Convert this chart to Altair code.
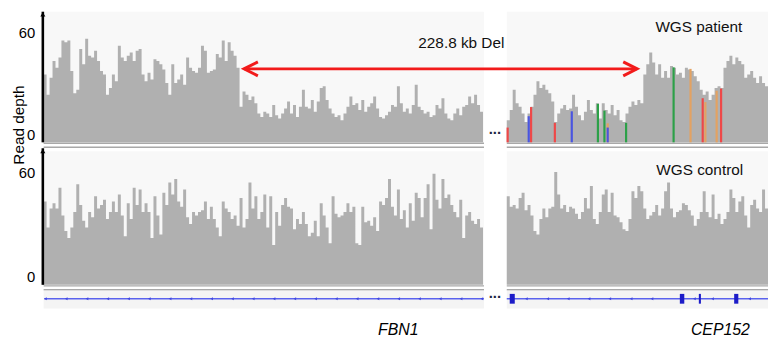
import altair as alt
import pandas as pd

FONT = "Liberation Sans"
GRAY = "#b0b0b0"
TRACK_BG = "#f8f8f8"
GENE_BG = "#f4f4f4"
SEP = "#a8a8a8"
RED = "#f21b1b"
TXT = "#111111"

# ---------------- data (x in coverage-bin units) ----------------
X_DOMAIN = [0, 244]
panel_x0 = [0, 156]
panel_x1 = [148.33, 244]
left_start = 0
right_start = 156

patient_left = [40, 28, 38, 48, 44, 50, 60, 59, 60, 42, 29, 31, 55, 46, 61, 51, 50, 54, 48, 42,
                40, 28, 32, 40, 36, 57, 50, 48, 51, 53, 48, 54, 55, 40, 36, 41, 37, 49, 48, 46,
                43, 35, 28, 46, 35, 37, 40, 34, 50, 44, 42, 41, 44, 57, 54, 41, 42, 43, 52, 50,
                60, 48, 59, 54, 51, 44, 21, 30, 28, 25, 27, 23, 17, 15,
                18, 17, 15, 22, 16, 14, 17, 20, 24, 17, 22, 15, 21, 31, 21, 20, 25, 18, 24, 32,
                33, 25, 20, 17, 15, 16, 13, 17, 21, 27, 22, 23, 19, 25, 18, 21, 23, 27, 20, 15,
                14, 16, 18, 22, 21, 33, 23, 18, 20, 17, 22, 34, 21, 19, 17, 18, 15, 16, 22, 20,
                26, 17, 14, 13, 17, 20, 16, 21, 22, 27, 23, 28, 22, 18]
patient_right = [13, 19, 31, 23, 21, 17, 12, 17, 21, 28, 36, 32, 34, 31, 29, 24, 12, 17, 20, 22,
                 19, 20, 28, 21, 16, 13, 18, 25, 19, 17, 23, 14, 23, 19, 17, 22, 16, 19, 13, 12,
                 17, 21, 24, 22, 25, 23, 40, 46, 53, 47, 40, 46, 38, 42, 38, 45, 44, 40, 41, 38,
                 44, 43, 42, 39, 36, 31, 28, 30, 25, 28, 32, 33, 32, 44, 48, 51, 46, 50, 48, 46,
                 38, 40, 42, 38, 35, 39, 35, 33]
control_left = [48, 33, 44, 47, 44, 56, 40, 31, 27, 33, 42, 58, 46, 37, 33, 42, 39, 51, 44, 46,
                49, 38, 42, 48, 42, 52, 40, 28, 47, 38, 56, 46, 55, 42, 47, 42, 27, 51, 40, 29,
                53, 46, 59, 52, 61, 48, 45, 55, 39, 35, 42, 40, 42, 43, 48, 38, 45, 38, 33, 28,
                48, 44, 42, 38, 40, 34, 50, 33, 38, 59, 44, 51, 38, 42,
                52, 33, 51, 23, 42, 34, 46, 50, 45, 44, 32, 38, 35, 42, 35, 28, 30, 37, 28, 47,
                40, 33, 24, 51, 41, 39, 40, 42, 47, 42, 45, 24, 23, 45, 36, 37, 34, 39, 31, 48,
                46, 50, 61, 45, 40, 55, 38, 43, 33, 47, 37, 53, 50, 39, 50, 58, 32, 64, 49, 44,
                61, 50, 52, 46, 42, 39, 49, 27, 40, 42, 37, 35, 38, 33]
control_right = [51, 45, 46, 44, 50, 53, 43, 46, 40, 31, 29, 38, 44, 39, 44, 45, 65, 52, 44, 46,
                 42, 45, 44, 41, 38, 42, 50, 44, 57, 38, 35, 42, 52, 55, 42, 53, 40, 39, 36, 32,
                 31, 38, 54, 50, 57, 54, 44, 38, 40, 42, 46, 40, 44, 54, 59, 44, 39, 42, 43, 47,
                 46, 43, 40, 34, 38, 42, 54, 42, 39, 52, 38, 41, 35, 38, 42, 55, 50, 42, 48, 51,
                 40, 33, 46, 49, 44, 42, 55, 44]

snv_x = [156.3, 163.4, 164.2, 172.2, 177.9, 186.7, 188.9, 190.0, 190.0, 196.2,
         212.2, 217.9, 222.0, 222.9, 226.7, 228.2]
snv_depth = [8.7, 15.4, 20.8, 11.5, 18.3, 22.7, 18.7, 11.2, 8.7, 11.5,
             44.2, 43.3, 26.0, 23.7, 30.4, 31.7]
snv_base = ["T", "C", "T", "T", "C", "A", "A", "G", "C", "A",
            "A", "G", "T", "G", "G", "T"]
base_names = ["A", "C", "G", "T"]
base_colors = ["#2ca048", "#4a55e0", "#e3a262", "#ee4848"]

del_start = 67.5
del_end = 199.9
del_depth = 43.3
del_text = "228.8 kb Del"
del_text_pos = [140.7, 58.7]

track_names = ["WGS patient", "WGS control"]
track_name_pos = [[220.7, 68.0], [221.0, 66.3]]

gene_names = ["FBN1", "CEP152"]
gene_name_pos = [119.3, 227.8]
gene_line_x0 = [0.2, 156.0]
gene_line_x1 = [148.3, 244.0]
intron_marks = [0.6, 7.6, 14.6, 21.6, 28.6, 35.6, 42.6, 49.6, 56.6, 63.6, 70.6, 77.6,
                84.6, 91.6, 98.6, 105.6, 112.6, 119.6, 126.6, 133.6, 140.6, 147.6,
                162.6, 169.8, 176.7, 183.7, 190.7, 197.9, 204.9, 219.2, 225.3, 237.8]
exon_x0 = [157.0, 214.3, 220.7, 232.6]
exon_x1 = [158.7, 215.8, 221.4, 234.0]
gap_x = 152.0

TRACK_TOP = 77.0

# ---------------- frames ----------------
def cov_frame(start, vals):
    xs = [start + i for i in range(len(vals))] + [start + len(vals)]
    ds = list(vals) + [vals[-1]]
    return pd.DataFrame({"x": xs, "depth": ds})

panels = pd.DataFrame({"x0": panel_x0, "x1": panel_x1, "top": [TRACK_TOP] * 2, "bottom": [0, 0]})
seps = pd.DataFrame({"x0": panel_x0 * 2, "x1": panel_x1 * 2, "lvl": [-0.6, -0.6, -2.9, -2.9]})
snv = pd.DataFrame({"x": snv_x, "depth": snv_depth, "base": snv_base, "zero": 0})
arrow = pd.DataFrame({"x0": [del_start], "x1": [del_end], "y": [del_depth]})
heads = pd.DataFrame({"x": [del_start, del_end], "y": [del_depth, del_depth], "side": ["L", "R"]})
del_lab = pd.DataFrame({"x": [del_text_pos[0]], "y": [del_text_pos[1]], "t": [del_text]})
dots1 = pd.DataFrame({"x": [gap_x], "y": [5.0], "t": ["..."]})

XS = alt.Scale(domain=X_DOMAIN, nice=False, zero=False)


def depth_axis(with_title):
    kw = dict(values=[0, 60], ticks=False, tickSize=0, grid=False, domain=False,
              labelFont=FONT, labelFontSize=15, labelColor="black",
              labelBaseline="bottom", labelPadding=9)
    if with_title:
        kw.update(title="Read depth", titleFont=FONT, titleFontSize=15.5, titleFontWeight="normal",
                  titleColor="black", titleAngle=270, titleX=-17.5, titleY=114,
                  titleAlign="center", titleBaseline="bottom")
    else:
        kw.update(title=None)
    return alt.Axis(**kw)


def track(vl, vr, height, ymax, name_idx, with_title, extra_fn):
    ys = alt.Scale(domain=[0, ymax], nice=False, zero=True)
    ax = depth_axis(with_title)

    def X(f):
        return alt.X(f, type="quantitative", scale=XS, axis=None)

    def Y(f):
        return alt.Y(f, type="quantitative", scale=ys, axis=ax)

    layers = [alt.Chart(panels).mark_rect(color=TRACK_BG).encode(
        x=X("x0"), x2="x1", y=Y("top"), y2="bottom")]
    for start, vals in ((left_start, vl), (right_start, vr)):
        layers.append(alt.Chart(cov_frame(start, vals)).mark_area(
            color=GRAY, interpolate="step-after", orient="vertical", opacity=1).encode(
            x=X("x"), y=alt.Y("depth", type="quantitative", scale=ys, axis=ax, stack=None)))
    layers.append(alt.Chart(seps).mark_rule(color=SEP, strokeWidth=1.5, clip=False).encode(
        x=X("x0"), x2="x1", y=Y("lvl")))
    layers += extra_fn(X, Y)
    nm = pd.DataFrame({"x": [track_name_pos[name_idx][0]], "y": [track_name_pos[name_idx][1]],
                       "t": [track_names[name_idx]]})
    layers.append(alt.Chart(nm).mark_text(font=FONT, fontSize=15.5, color=TXT).encode(
        x=X("x"), y=Y("y"), text="t:N"))
    # black axis spine with a small arrow tip on top
    spine = pd.DataFrame({"x": [0.0], "lo": [0.0], "hi": [ymax]})
    layers.append(alt.Chart(spine).mark_rule(color="black", strokeWidth=2.6, xOffset=-0.8).encode(
        x=X("x"), y=Y("lo"), y2="hi"))
    tip = pd.DataFrame({"x": [0.0], "y": [ymax - 1.6]})
    layers.append(alt.Chart(tip).mark_point(shape="triangle-up", filled=True, color="black",
                                            size=26, opacity=1, xOffset=-0.8).encode(
        x=X("x"), y=Y("y")))
    return alt.layer(*layers).properties(width=732, height=height)


def patient_extras(X, Y):
    snv_layer = alt.Chart(snv).mark_rule(strokeWidth=2.2).encode(
        x=X("x"), y=Y("depth"), y2="zero",
        color=alt.Color("base:N", scale=alt.Scale(domain=base_names, range=base_colors),
                        legend=None))
    arrow_line = alt.Chart(arrow).mark_rule(color=RED, strokeWidth=3).encode(
        x=X("x0"), x2="x1", y=Y("y"))
    arrow_heads = alt.Chart(heads).mark_point(filled=False, color=RED, strokeWidth=3, size=196,
                                              opacity=1).encode(
        x=X("x"), y=Y("y"),
        shape=alt.Shape("side:N", scale=alt.Scale(domain=["L", "R"],
                                                  range=["M2,-1L0,0L2,1", "M-2,-1L0,0L-2,1"]),
                        legend=None))
    del_label = alt.Chart(del_lab).mark_text(font=FONT, fontSize=15.5, color=TXT).encode(
        x=X("x"), y=Y("y"), text="t:N")
    dots_top = alt.Chart(dots1).mark_text(font=FONT, fontSize=15, fontWeight="bold",
                                          color="#1c2541", baseline="alphabetic").encode(
        x=X("x"), y=Y("y"), text="t:N")
    return [snv_layer, arrow_line, arrow_heads, del_label, dots_top]


# row 1: 132 px for 0..77 ; row 2: 138 px (3 px of white headroom above the panel)
row1 = track(patient_left, patient_right, 132, 77.0, 0, True, patient_extras)
row2 = track(control_left, control_right, 138, 77.0 * 138 / 135, 1, False, lambda X, Y: [])

# ---------------- gene track ----------------
YG = alt.Scale(domain=[-1.1, 0.9], nice=False, zero=False)
gene_bg_df = pd.DataFrame({"x0": panel_x0, "x1": panel_x1, "lo": [-1.1, -1.1], "hi": [0.9, 0.9]})
gene_line_df = pd.DataFrame({"x0": gene_line_x0, "x1": gene_line_x1, "y": [0, 0]})
intron_df = pd.DataFrame({"x": intron_marks, "y": 0})
exon_df = pd.DataFrame({"x0": exon_x0, "x1": exon_x1, "lo": -0.55, "hi": 0.55})
dots3 = pd.DataFrame({"x": [gap_x], "y": [0.05], "t": ["..."]})

mid = (gene_name_pos[0] + gene_name_pos[1]) / 2
label_expr = f"datum.value < {mid} ? '{gene_names[0]}' : '{gene_names[1]}'"
gene_axis = alt.Axis(values=gene_name_pos, labelExpr=label_expr, ticks=False, tickSize=0,
                     domain=False, grid=False, labelFont=FONT, labelFontSize=16,
                     labelFontStyle="italic", labelColor="black", labelPadding=13,
                     labelFlush=False, labelOverlap=False, title=None)


def GX(f):
    return alt.X(f, type="quantitative", scale=XS, axis=gene_axis)


def GY(f):
    return alt.Y(f, type="quantitative", scale=YG, axis=None)


g_bg = alt.Chart(gene_bg_df).mark_rect(color=GENE_BG).encode(
    x=GX("x0"), x2="x1", y=GY("lo"), y2="hi")
g_line = alt.Chart(gene_line_df).mark_rule(color="#5a62ee", strokeWidth=1.5).encode(
    x=GX("x0"), x2="x1", y=GY("y"))
g_intr = alt.Chart(intron_df).mark_point(shape="triangle-left", filled=True, color="#4048e0",
                                         size=10, opacity=1).encode(x=GX("x"), y=GY("y"))
g_exon = alt.Chart(exon_df).mark_rect(color="#1c1cc8").encode(
    x=GX("x0"), x2="x1", y=GY("lo"), y2="hi")
g_dots = alt.Chart(dots3).mark_text(font=FONT, fontSize=15, fontWeight="bold", color="#1c2541",
                                    baseline="alphabetic").encode(
    x=GX("x"), y=GY("y"), text="t:N")
row3 = alt.layer(g_bg, g_line, g_intr, g_exon, g_dots).properties(width=732, height=18)

chart = alt.vconcat(row1, row2, row3, spacing=6, bounds="flush").properties(
    padding={"left": 3, "top": 0, "right": 0, "bottom": 0},
    background="white").configure_view(strokeWidth=0)

chart.save("out.html", embed_options={"renderer": "svg", "actions": False})
